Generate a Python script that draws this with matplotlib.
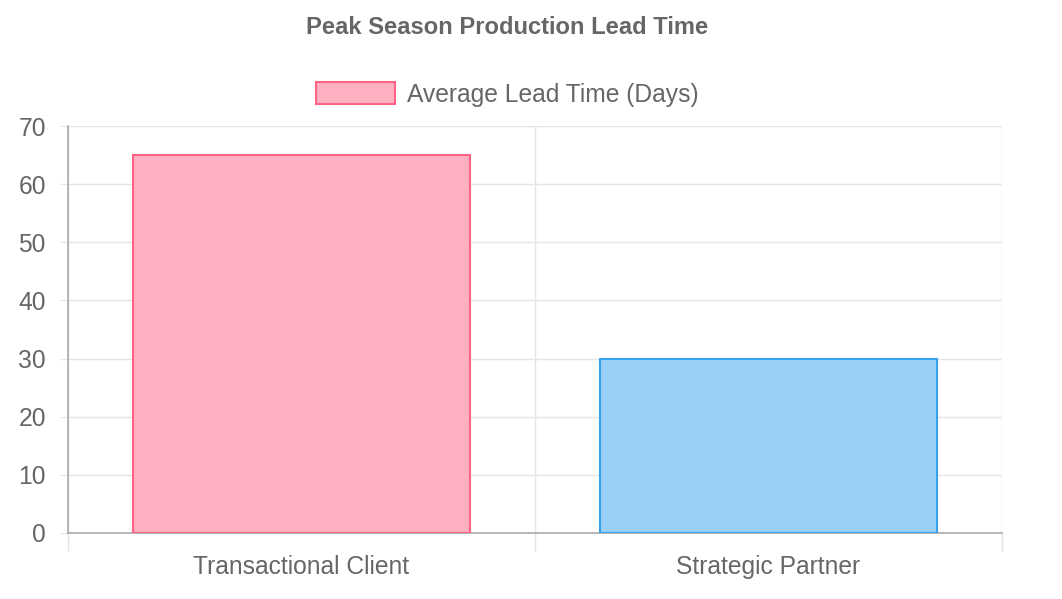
import matplotlib
matplotlib.use('agg')
import matplotlib.pyplot as plt
from matplotlib.patches import Rectangle

categories = ['Transactional Client', 'Strategic Partner']
leadTimes = [65, 30]
seriesLabel = 'Average Lead Time (Days)'
yTicks = [0, 10, 20, 30, 40, 50, 60, 70]

fillColors = ['#ffb1c1', '#9ad0f5']
edgeColors = ['#ff6384', '#36a2eb']
textColor = '#666666'

plt.rcParams['font.family'] = ['Liberation Sans', 'DejaVu Sans']

W, H = 1062, 599
fig = plt.figure(figsize=(W / 100, H / 100), dpi=100)
ax = fig.add_axes([68 / W, (H - 533) / H, 934 / W, 407 / H])

xs = list(range(len(categories)))
ax.bar(xs, leadTimes, width=0.72, color=fillColors, edgecolor=edgeColors, linewidth=1.5, zorder=3)

ax.set_xlim(-0.5, len(categories) - 0.5)
ax.set_ylim(0, 70)
ax.set_yticks(yTicks)
ax.set_xticks(xs)
ax.set_xticklabels(categories)
ax.set_xticks([i - 0.5 for i in range(len(categories) + 1)], minor=True)

ax.grid(axis='y', color='#e5e5e5', linewidth=1, zorder=0)
ax.grid(axis='x', which='minor', color='#e5e5e5', linewidth=1, zorder=0)
ax.tick_params(axis='y', length=6, color='#e5e5e5', labelsize=17.7, labelcolor=textColor, pad=10)
ax.tick_params(axis='x', which='major', length=0, labelsize=17.7, labelcolor=textColor, pad=16)
ax.tick_params(axis='x', which='minor', length=13, color='#e5e5e5', width=1)

for side in ('top', 'right'):
    ax.spines[side].set_visible(False)
for side in ('left', 'bottom'):
    ax.spines[side].set_color('#aaaaaa')
    ax.spines[side].set_linewidth(1.2)

fig.text(507.5 / W, 1 - 27 / H, 'Peak Season Production Lead Time', ha='center', va='center',
         fontsize=17.1, fontweight='bold', color=textColor)

handle = Rectangle((0, 0), 1, 1, facecolor=fillColors[0], edgecolor=edgeColors[0], linewidth=1.5)
fig.legend([handle], [seriesLabel], loc='center', bbox_to_anchor=(507.5 / W, 1 - 94.5 / H),
           frameon=False, fontsize=17.7, labelcolor=textColor, handlelength=3.2,
           handleheight=0.95, handletextpad=0.5)

plt.savefig('out.png', dpi=100)
